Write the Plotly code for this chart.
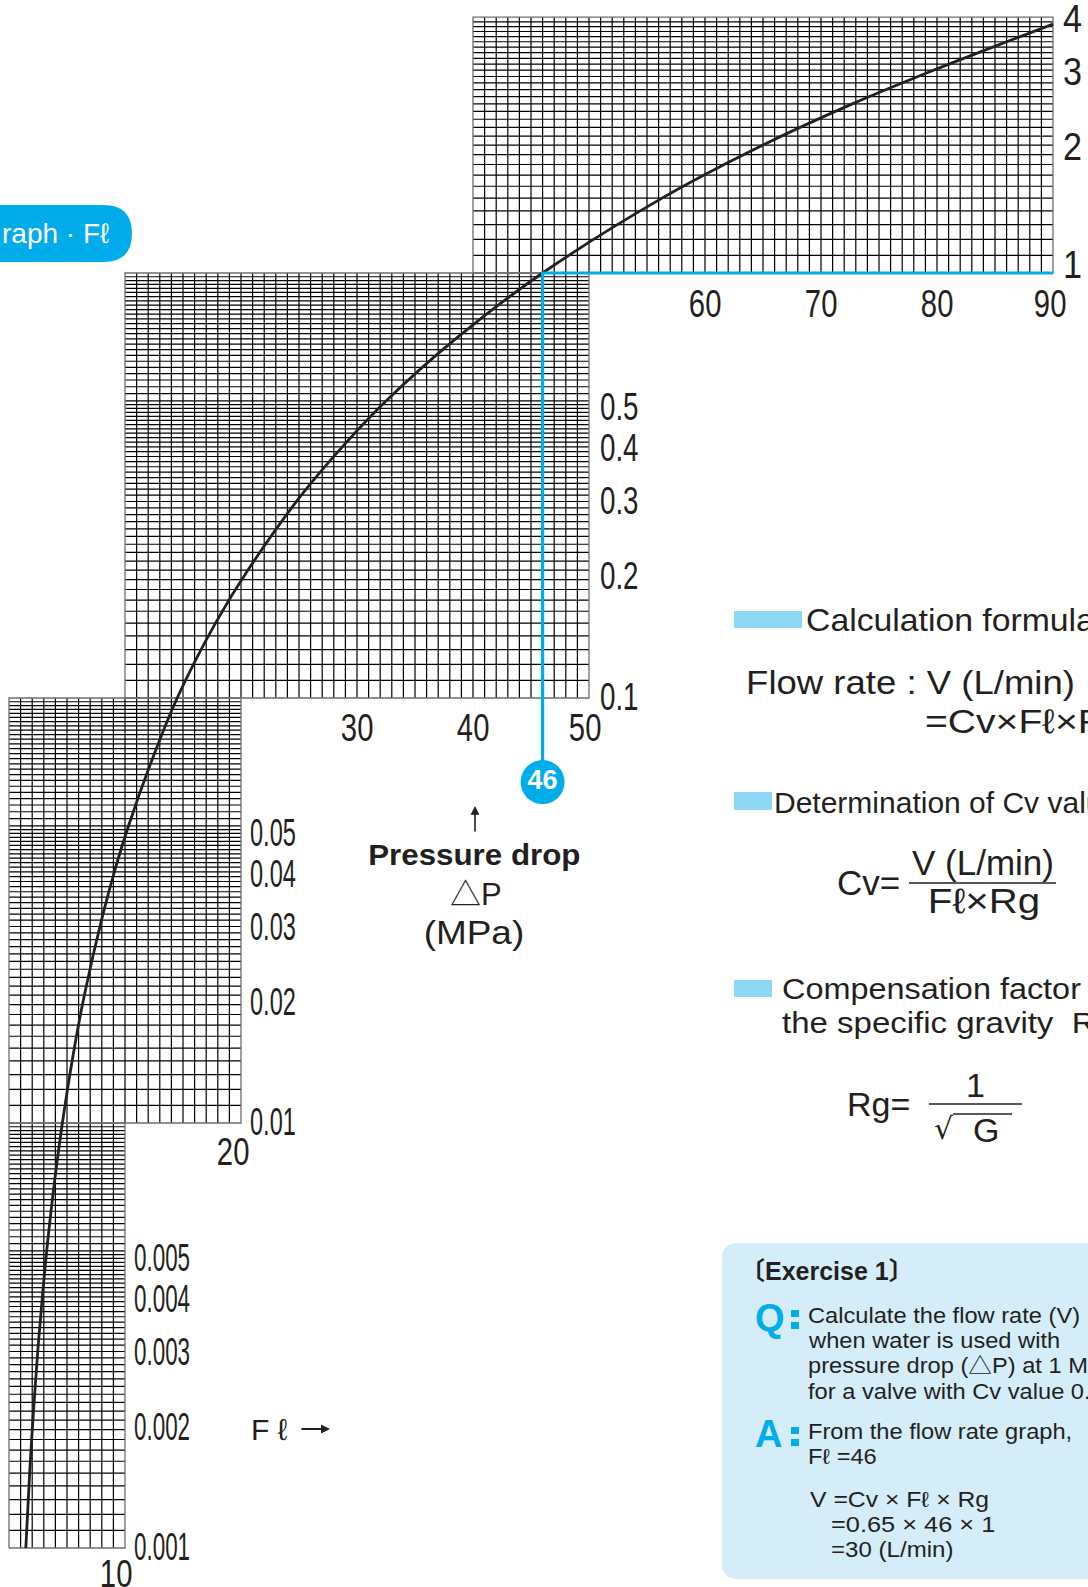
import json
import numpy as np
import plotly.graph_objects as go

# ---------------- data ----------------
curve_dp = [0.001, 0.0015, 0.002, 0.003, 0.004, 0.005, 0.007, 0.01, 0.015, 0.02, 0.03, 0.04,
            0.05, 0.07, 0.1, 0.15, 0.2, 0.3, 0.4, 0.5, 0.7, 1.0, 1.5, 2.0, 2.5, 3.0, 3.5, 3.85]
curve_fl = [1.45, 1.78, 2.06, 2.52, 2.91, 3.25, 3.85, 4.6, 5.63, 6.5, 7.97, 9.2,
            10.3, 12.2, 14.5, 17.8, 20.6, 25.2, 29.1, 32.5, 38.5, 46.0, 56.3, 65.0, 72.7, 79.7, 86.0, 90.0]

panel_fl_min = [40, 10, 0, 0]
panel_fl_max = [90, 50, 20, 10]
panel_dp_min = [1.0, 0.1, 0.01, 0.001]
panel_dp_max = [4.0, 1.0, 0.1, 0.01]

x_tick_vals = [[60, 70, 80, 90], [30, 40, 50], [20], [10]]
y_tick_vals = [[1, 2, 3, 4], [0.1, 0.2, 0.3, 0.4, 0.5], [0.01, 0.02, 0.03, 0.04, 0.05],
               [0.001, 0.002, 0.003, 0.004, 0.005]]
y_tick_text = [["1", "2", "3", "4"], ["0.1", "0.2", "0.3", "0.4", "0.5"],
               ["0.01", "0.02", "0.03", "0.04", "0.05"], ["0.001", "0.002", "0.003", "0.004", "0.005"]]

example_fl = 46
example_dp = 1.0
badge_dp = 0.0634

# ---------------- geometry helpers ----------------
W, H = 1088, 1587
X0PX, XSCALE = 9.0, 11.6          # pixel of Fl=0, pixels per unit
Y1PX, YDEC = 273.0, 425.0         # pixel of dP=1, pixels per decade


def px(x):
    return x / W


def py(y):
    return 1 - y / H


CYAN = "#00ACE9"
LIGHT = "#8ED8F5"
TICKF = "Liberation Sans, Arial, sans-serif"
TXT = "Liberation Sans, Arial, Noto Sans CJK JP, sans-serif"
INK = "#231f20"

fig = go.Figure()

# ---------------- grid ----------------
gx, gy = [], []
bx, by = [], []
for f0, f1, p0, p1 in zip(panel_fl_min, panel_fl_max, panel_dp_min, panel_dp_max):
    for f in range(f0 + 1, f1):
        gx += [f, f, None]
        gy += [p0, p1, None]
    ratios = [1 + k * 0.1 for k in range(0, 41)] + [5 + k * 0.2 for k in range(1, 25)]
    for r in ratios:
        v = r * p0
        if p0 * 1.0000001 < v < p1 * 0.9999999:
            gx += [f0, f1, None]
            gy += [v, v, None]
    bx += [f0, f1, f1, f0, f0, None]
    by += [p0, p0, p1, p1, p0, None]

fig.add_trace(go.Scatter(x=gx, y=gy, mode="lines", line=dict(color="#000000", width=1.2),
                         hoverinfo="skip", showlegend=False))
fig.add_trace(go.Scatter(x=bx, y=by, mode="lines", line=dict(color="#6d6d6d", width=1.3),
                         hoverinfo="skip", showlegend=False))

# ---------------- curve ----------------
fig.add_trace(go.Scatter(x=curve_fl, y=curve_dp, mode="lines",
                         line=dict(color=INK, width=2.8, shape="spline"), showlegend=False))

# ---------------- example guide ----------------
fig.add_trace(go.Scatter(x=[example_fl, example_fl, panel_fl_max[0]], y=[badge_dp, example_dp, example_dp],
                         mode="lines", line=dict(color=CYAN, width=3.2), showlegend=False))
fig.add_trace(go.Scatter(x=[example_fl], y=[badge_dp], mode="markers+text",
                         marker=dict(size=44, color=CYAN), text=[str(example_fl)],
                         textposition="middle center",
                         textfont=dict(color="white", size=27, family="Liberation Sans, Arial", weight="bold"),
                         showlegend=False))

ann = []
squeeze = {}

# ---------------- tick labels ----------------
x_shift = [[0, 0, 0, -3], [0, 0, -4], [-8], [-9]]
x_yshift = [-31, -30, -29, -26]
for i in range(4):
    for j, v in enumerate(x_tick_vals[i]):
        squeeze[len(ann)] = [0.77, "center"]
        ann.append(dict(x=v, y=np.log10(panel_dp_min[i]), xref="x", yref="y", text=str(v), showarrow=False,
                        xanchor="center", yanchor="middle", xshift=x_shift[i][j], yshift=x_yshift[i],
                        font=dict(family=TICKF, size=38, color=INK)))
y_xshift = [8, 9, 7, 7]
y_scale = [0.9, 0.73, 0.62, 0.59]
y_drop = [-2, -6, -7, -7]
for i in range(4):
    for v, tt in zip(y_tick_vals[i], y_tick_text[i]):
        if v == panel_dp_min[i]:
            ys = 8 if i == 0 else 1
        else:
            ys = y_drop[i]
        squeeze[len(ann)] = [y_scale[i], "left"]
        ann.append(dict(x=panel_fl_max[i], y=np.log10(v), xref="x", yref="y", text=tt, showarrow=False,
                        xanchor="left", yanchor="middle", xshift=y_xshift[i], yshift=ys,
                        font=dict(family=TICKF, size=38, color=INK)))


def t(x, y, text, size, color=INK, anchor="left", bold=False, family=TXT, sx=None):
    if bold:
        text = "<b>" + text + "</b>"
    if sx is not None:
        squeeze[len(ann)] = [sx, anchor]
    ann.append(dict(x=px(x), y=py(y), xref="paper", yref="paper", text=text, showarrow=False,
                    xanchor=anchor, yanchor="middle", font=dict(family=family, size=size, color=color)))


# ---------------- axis titles ----------------
t(249, 1429, "F ℓ", 30)
ann.append(dict(x=px(330), y=py(1429), xref="paper", yref="paper", ax=-30, ay=0,
                axref="pixel", ayref="pixel", text="", showarrow=True, arrowhead=2, arrowsize=1.0,
                arrowwidth=1.8, arrowcolor=INK))
ann.append(dict(x=px(475), y=py(806), xref="paper", yref="paper", ax=0, ay=27,
                axref="pixel", ayref="pixel", text="", showarrow=True, arrowhead=2, arrowsize=1.1,
                arrowwidth=1.6, arrowcolor=INK))
t(474, 855, "Pressure drop", 29, anchor="center", bold=True, sx=1.08)
t(476, 894, "△P", 31, anchor="center")
t(474, 932, "(MPa)", 33, anchor="center", sx=1.12)

# ---------------- pill title ----------------
t(0, 234, "raph · Fℓ", 28, color="white")

# ---------------- right side text ----------------
t(804, 620, "Calculation formula", 32, sx=1.055)
t(744, 682, "Flow rate : V (L/min)", 34, sx=1.075)
t(923, 721, "=Cv×Fℓ×Rg", 34, sx=1.15)
t(772, 802, "Determination of Cv value", 30)
t(835, 883, "Cv=", 35)
t(983, 862, "V (L/min)", 35, anchor="center")
t(984, 900, "Fℓ×Rg", 35, anchor="center", sx=1.15)
t(780, 988, "Compensation factor", 30, sx=1.08)
t(780, 1022, "the specific gravity  Rg", 30, sx=1.1)
t(845, 1104, "Rg=", 34)
t(975, 1085, "1", 34, anchor="center")
t(944, 1128, "√", 30, anchor="center", family="DejaVu Sans, sans-serif")
t(986, 1130, "G", 34, anchor="center")

# exercise box
t(738, 1271, "〔Exercise 1〕", 25, bold=True)
t(753, 1318, "Q", 38, color=CYAN, bold=True)
t(753, 1434, "A", 38, color=CYAN, bold=True)
ex_lines = [(1316, "Calculate the flow rate (V)"), (1341, "when water is used with"),
            (1366, "pressure drop (△P) at 1 MPa"), (1392, "for a valve with Cv value 0.65"),
            (1432, "From the flow rate graph,"), (1457, "Fℓ =46")]
for y, s in ex_lines:
    t(806, y, s, 21.5, sx=1.1)
t(808, 1500, "V =Cv × Fℓ × Rg", 21.5, sx=1.15)
t(829, 1525, "=0.65 × 46 × 1", 21.5, sx=1.18)
t(829, 1550, "=30 (L/min)", 21.5, sx=1.12)


# ---------------- shapes ----------------
def rpath(x0, y0, x1, y1, r):
    pts = [("M", x0 + r, y0), ("L", x1 - r, y0), ("Q", x1, y0, x1, y0 + r), ("L", x1, y1 - r),
           ("Q", x1, y1, x1 - r, y1), ("L", x0 + r, y1), ("Q", x0, y1, x0, y1 - r), ("L", x0, y0 + r),
           ("Q", x0, y0, x0 + r, y0)]
    out = []
    for p in pts:
        coords = p[1:]
        s = " ".join(f"{px(coords[k]):.5f},{py(coords[k + 1]):.5f}" for k in range(0, len(coords), 2))
        out.append(p[0] + " " + s)
    return " ".join(out) + " Z"


shapes = []
shapes.append(dict(type="path", xref="paper", yref="paper", path=rpath(-60, 205, 132, 262, 28.5),
                   fillcolor=CYAN, line=dict(width=0), layer="below"))
shapes.append(dict(type="path", xref="paper", yref="paper", path=rpath(722, 1243, 1130, 1579, 16),
                   fillcolor="#D5EDF9", line=dict(width=0), layer="below"))
for (x0, y0, x1, y1) in [(734, 611, 802, 628), (734, 792, 772, 810), (734, 980, 772, 997)]:
    shapes.append(dict(type="rect", xref="paper", yref="paper", x0=px(x0), y0=py(y0), x1=px(x1), y1=py(y1),
                       fillcolor=LIGHT, line=dict(width=0)))
for (x0, x1, y) in [(909, 1056, 883), (929, 1022, 1104), (953, 1012, 1114)]:
    shapes.append(dict(type="line", xref="paper", yref="paper", x0=px(x0), x1=px(x1), y0=py(y), y1=py(y),
                       line=dict(color=INK, width=1.5)))
for (ya, yb) in [((1310, 1317), (1322, 1329)), ((1427, 1434), (1439, 1446))]:
    for (y0, y1) in (ya, yb):
        shapes.append(dict(type="rect", xref="paper", yref="paper", x0=px(791), x1=px(799),
                           y0=py(y0), y1=py(y1), fillcolor=CYAN, line=dict(width=0)))

fig.update_layout(
    width=W, height=H, margin=dict(l=0, r=0, t=0, b=0),
    paper_bgcolor="white", plot_bgcolor="white",
    xaxis=dict(range=[-X0PX / XSCALE, (W - X0PX) / XSCALE], visible=False, fixedrange=True),
    yaxis=dict(type="log", range=[-(H - Y1PX) / YDEC, Y1PX / YDEC], visible=False, fixedrange=True),
    annotations=ann, shapes=shapes, showlegend=False,
)

post = """
document.body.style.margin = '0';
document.body.style.overflow = 'hidden';
var SQ = %s;
document.querySelectorAll('g.annotation').forEach(function(g){
  var idx = g.getAttribute('data-index');
  var item = SQ[idx];
  if (!item) return;
  var tx = g.querySelector('text.annotation-text');
  if (!tx) return;
  var bb = tx.getBBox();
  var ax = item[1] === 'left' ? bb.x : bb.x + bb.width / 2;
  tx.setAttribute('transform', 'translate(' + ax + ',0) scale(' + item[0] + ',1) translate(' + (-ax) + ',0)');
});
""" % json.dumps({str(k): v for k, v in squeeze.items()})

fig.write_html("out.html", post_script=post, config={"displayModeBar": False})
